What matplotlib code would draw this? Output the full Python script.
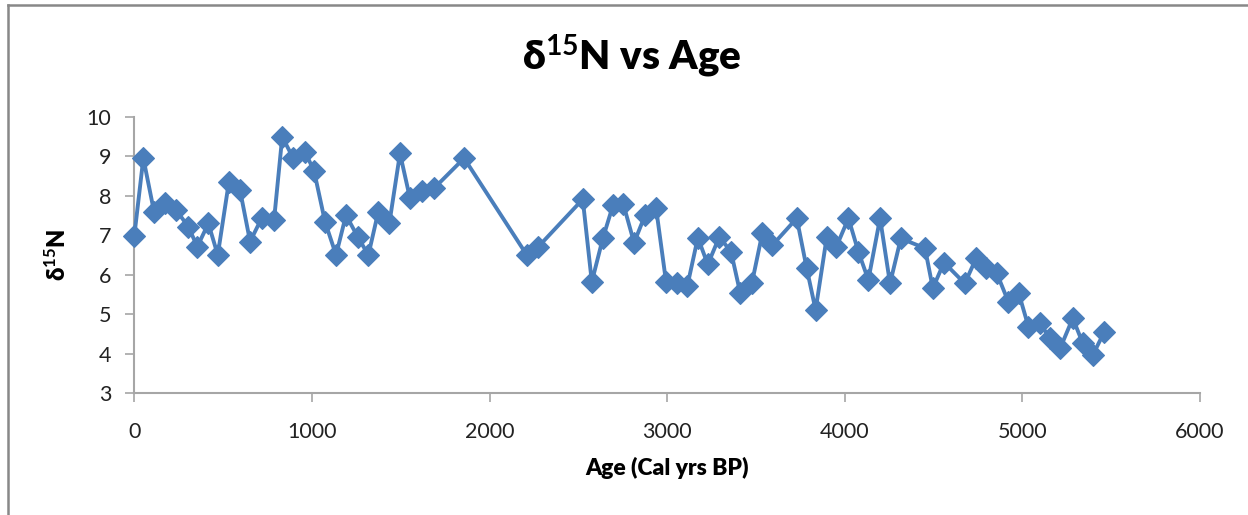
import matplotlib.pyplot as plt
from matplotlib.lines import Line2D

# age (cal yrs BP) and d15N values
age = [0, 51, 111, 173, 235, 304, 355, 417, 470, 533,
       595, 652, 717, 787, 833, 895, 961, 1012, 1074, 1136,
       1192, 1258, 1318, 1374, 1436, 1496, 1552, 1618, 1688, 1857,
       2210, 2275, 2525, 2576, 2638, 2696, 2754, 2814, 2876, 2938,
       2994, 3054, 3114, 3173, 3229, 3294, 3360, 3411, 3477, 3536,
       3593, 3730, 3786, 3836, 3899, 3951, 4021, 4077, 4133, 4199,
       4255, 4316, 4452, 4496, 4559, 4676, 4740, 4798, 4856, 4921,
       4980, 5034, 5100, 5156, 5213, 5284, 5340, 5397, 5462]
d15n = [6.98, 8.95, 7.60, 7.81, 7.64, 7.22, 6.71, 7.30, 6.50, 8.36,
        8.15, 6.84, 7.43, 7.39, 9.49, 8.95, 9.11, 8.63, 7.34, 6.50,
        7.51, 6.96, 6.50, 7.60, 7.30, 9.07, 7.94, 8.12, 8.19, 8.95,
        6.50, 6.71, 7.91, 5.82, 6.92, 7.77, 7.78, 6.81, 7.51, 7.68,
        5.82, 5.80, 5.72, 6.94, 6.26, 6.96, 6.58, 5.55, 5.78, 7.05,
        6.75, 7.43, 6.16, 5.11, 6.96, 6.69, 7.43, 6.58, 5.87, 7.43,
        5.78, 6.92, 6.67, 5.66, 6.31, 5.78, 6.42, 6.16, 6.04, 5.32,
        5.53, 4.69, 4.77, 4.39, 4.14, 4.90, 4.27, 3.97, 4.56]

x_ticks = [0, 1000, 2000, 3000, 4000, 5000, 6000]
y_ticks = [3, 4, 5, 6, 7, 8, 9, 10]

plt.rcParams['font.family'] = ['Lato', 'DejaVu Sans']
plt.rcParams['mathtext.fontset'] = 'custom'
plt.rcParams['mathtext.rm'] = 'Lato'
plt.rcParams['mathtext.bf'] = 'Lato:bold'
plt.rcParams['mathtext.default'] = 'bf'

blue = '#4a7ebb'
axis_grey = '#a6a6a6'

fig = plt.figure(figsize=(12.48, 5.15), dpi=100)
ax = fig.add_axes([0.1076, 0.2363, 0.8539, 0.5371])

ax.plot(age, d15n, color=blue, lw=2.8, marker='D', ms=11,
        mfc=blue, mec=blue, mew=0.8, clip_on=False, zorder=3)

ax.set_xlim(0, 6000)
ax.set_ylim(3, 10)
ax.set_xticks(x_ticks)
ax.set_yticks(y_ticks)

for side in ['top', 'right']:
    ax.spines[side].set_visible(False)
for side in ['left', 'bottom']:
    ax.spines[side].set_color(axis_grey)
    ax.spines[side].set_linewidth(1.5)
ax.tick_params(axis='both', direction='out', length=6.5, width=1.2,
               color=axis_grey, labelsize=15.5, labelcolor='#222222')
ax.tick_params(axis='x', pad=14)
ax.tick_params(axis='y', pad=10)

ax.set_xlabel('Age (Cal yrs BP)', fontsize=16.5, fontweight='heavy', labelpad=11)
ax.set_ylabel(r'δ$^{15}$N', fontsize=17, fontweight='heavy', labelpad=12)

fig.text(0.506, 0.864, r'δ$^{15}$N vs Age', ha='center', va='baseline',
         fontsize=29, fontweight='heavy')

# chart area frame (only top and left edges fall inside the image)
fig.add_artist(Line2D([0.0064, 0.0064], [0, 0.9903], color='#888888', lw=1.8,
                      transform=fig.transFigure))
fig.add_artist(Line2D([0.0064, 1], [0.9903, 0.9903], color='#888888', lw=1.8,
                      transform=fig.transFigure))

fig.savefig('out.png', dpi=100)
